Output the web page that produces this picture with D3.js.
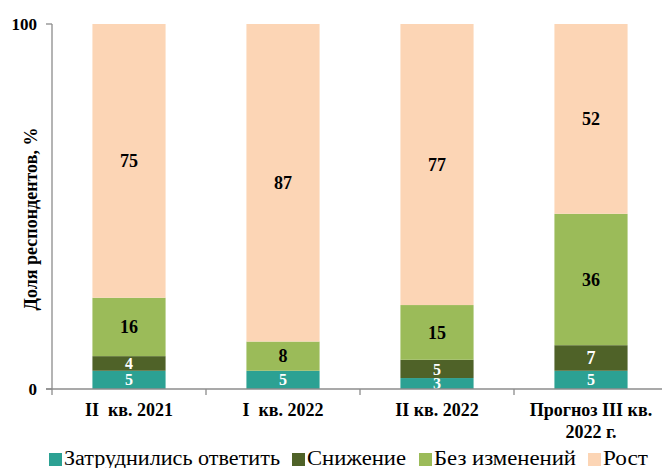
<!DOCTYPE html>
<html>
<head>
<meta charset="utf-8">
<script src="https://cdn.jsdelivr.net/npm/d3@7"></script>
<style>
  body { margin: 0; background: #fff; }
  text { font-family: "Liberation Serif", "Times New Roman", serif; }
</style>
</head>
<body>
<div class="chart"></div>
<script>
// Chart data
var categories = ["II  кв. 2021", "I  кв. 2022", "II кв. 2022", "Прогноз III кв.|2022 г."];
var seriesNames = ["Затруднились ответить", "Снижение", "Без изменений", "Рост"];
var hardToSay = [5, 5, 3, 5];
var decrease = [4, 0, 5, 7];
var noChange = [16, 8, 15, 36];
var growth = [75, 87, 77, 52];
var colors = ["#2ca193", "#4f6228", "#9bbb59", "#fcd5b5"];
var labelColors = ["#fff", "#fff", "#000", "#000"];
var yTicks = [0, 100];

var svgWidth = 662;
var svgHeight = 468;
var margin = { top: 24, right: 0, bottom: 79, left: 52 };
var height = svgHeight - margin.top - margin.bottom;

var svg = d3.select(".chart").append("svg")
    .attr("width", svgWidth)
    .attr("height", svgHeight);

var chart = svg.append("g")
    .attr("transform", "translate(" + margin.left + "," + margin.top + ")");

var rows = categories.map(function (c, i) {
    return { cat: c, s0: hardToSay[i], s1: decrease[i], s2: noChange[i], s3: growth[i] };
});
var stack = d3.stack().keys(["s0", "s1", "s2", "s3"])(rows);

var x = d3.scaleBand().domain(categories).range([0, 616]).paddingInner(0.525).paddingOuter(0.2625);
var y = d3.scaleLinear().domain([0, 100]).range([height, 0]);

// Bars
stack.forEach(function (layer, li) {
    var g = chart.append("g");
    g.selectAll("rect").data(layer).enter().append("rect")
        .attr("x", function (d) { return x(d.data.cat); })
        .attr("width", x.bandwidth())
        .attr("y", function (d) { return y(d[1]); })
        .attr("height", function (d) { return y(d[0]) - y(d[1]); })
        .attr("fill", colors[li]);
    g.selectAll("text").data(layer.filter(function (d) { return d[1] - d[0] > 0; })).enter().append("text")
        .attr("x", function (d) { return x(d.data.cat) + x.bandwidth() / 2; })
        .attr("y", function (d) { return y((d[0] + d[1]) / 2); })
        .attr("dy", "0.35em")
        .attr("text-anchor", "middle")
        .attr("font-size", function (d) { return d[1] - d[0] < 6 ? 16 : 18; })
        .attr("font-weight", "bold")
        .attr("fill", labelColors[li])
        .text(function (d) { return d[1] - d[0]; });
});

// Y axis
var axisColor = "#8c8c8c";
chart.append("line").attr("x1", 0).attr("x2", 0).attr("y1", y(100)).attr("y2", y(0))
    .attr("stroke", axisColor).attr("stroke-width", 1.3);
chart.selectAll(".ytick").data(yTicks).enter().append("line")
    .attr("x1", -6).attr("x2", 0)
    .attr("y1", function (d) { return y(d); }).attr("y2", function (d) { return y(d); })
    .attr("stroke", axisColor).attr("stroke-width", 1.3);
chart.selectAll(".ylab").data(yTicks).enter().append("text")
    .attr("x", -15)
    .attr("y", function (d) { return y(d); })
    .attr("dy", "0.35em")
    .attr("text-anchor", "end")
    .attr("font-size", 17)
    .attr("font-weight", "bold")
    .text(function (d) { return d; });

// X axis
chart.append("line").attr("x1", -6).attr("x2", 616).attr("y1", height).attr("y2", height)
    .attr("stroke", axisColor).attr("stroke-width", 1.3);
d3.range(0, 5).forEach(function (i) {
    chart.append("line")
        .attr("x1", i * x.step()).attr("x2", i * x.step())
        .attr("y1", height).attr("y2", height + 6)
        .attr("stroke", axisColor).attr("stroke-width", 1.3);
});
categories.forEach(function (c) {
    var lines = c.split("|");
    var t = chart.append("text")
        .attr("x", x(c) + x.bandwidth() / 2)
        .attr("y", height + 27)
        .attr("text-anchor", "middle")
        .attr("font-size", 18)
        .attr("font-weight", "bold")
        .style("white-space", "pre");
    lines.forEach(function (l, k) {
        t.append("tspan").attr("x", x(c) + x.bandwidth() / 2).attr("dy", k === 0 ? 0 : 22).text(l);
    });
});

// Y axis title
svg.append("text")
    .attr("transform", "translate(37,219) rotate(-90)")
    .attr("text-anchor", "middle")
    .attr("font-size", 18)
    .attr("font-weight", "bold")
    .text("Доля респондентов, %");

// Legend
var legendX = [49, 292, 419, 588];
var legendW = [216, 99, 142, 45];
seriesNames.forEach(function (name, i) {
    svg.append("rect")
        .attr("x", legendX[i]).attr("y", 453)
        .attr("width", 13).attr("height", 13)
        .attr("fill", colors[i]);
    svg.append("text")
        .attr("x", legendX[i] + 15).attr("y", 465)
        .attr("font-size", 20)
        .attr("textLength", legendW[i])
        .attr("lengthAdjust", "spacingAndGlyphs")
        .text(name);
});
</script>
</body>
</html>
